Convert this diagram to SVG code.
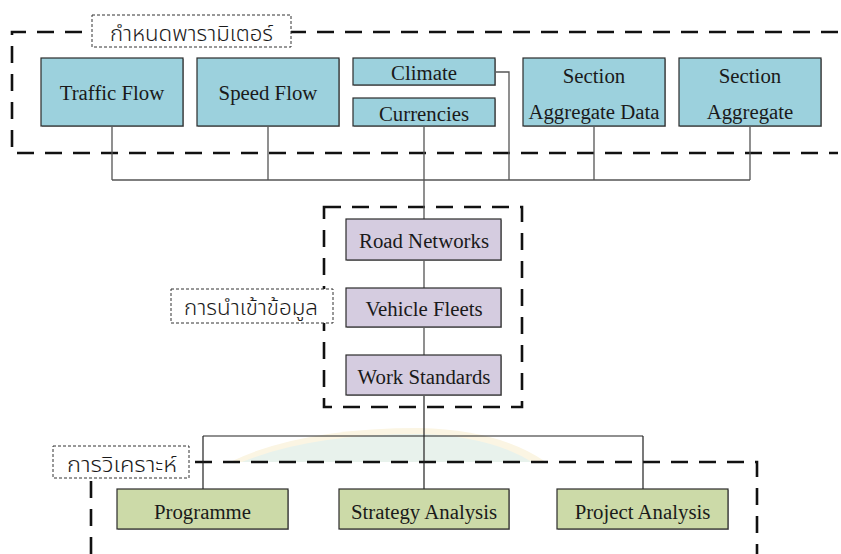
<svg xmlns="http://www.w3.org/2000/svg" width="841" height="554" viewBox="0 0 841 554">
<style>
.t{font-family:"Liberation Serif","Times New Roman",serif;font-size:20.8px;fill:#1a1a1a;text-anchor:middle}
.th{font-family:"Noto Sans Thai","Noto Sans Thai UI","Noto Sans","DejaVu Sans",sans-serif;font-size:21px;font-weight:300;fill:#1a1a1a}
.teal{fill:#9CD1DD;stroke:#2b2b2b;stroke-width:1.2}
.purp{fill:#D5CCE0;stroke:#2b2b2b;stroke-width:1.2}
.grn{fill:#CCDAA8;stroke:#2b2b2b;stroke-width:1.2}
.sh{fill:#b0b0b0}
.grp{fill:none;stroke:#111;stroke-width:2.6;stroke-dasharray:17 11}
.lbl{fill:#fff;stroke:#333;stroke-width:1;stroke-dasharray:3 2}
.c1{fill:none;stroke:#555;stroke-width:1.3}
.c2{fill:none;stroke:#222;stroke-width:1.2}
</style>
<rect width="841" height="554" fill="#fff"/>
<g id="watermark">
<path d="M230,462 Q300,428 420,428 Q500,430 546,462 Z" fill="#FBF5E3"/>
<path d="M242,462 Q310,434 420,434 Q490,436 532,462 Z" fill="#E8F2EC"/>
</g>
<g id="groups">
<path class="grp" d="M838,32 H12 V153 H838"/>
<rect class="grp" x="324" y="207" width="198" height="200"/>
<path class="grp" d="M91,554 V462 H757 V554"/>
</g>
<g id="connectors">
<path class="c1" d="M112,126 V180 M268,126 V180 M594,126 V180 M750,126 V180 M112,180 H750 M495,72 H509 V180 M424,126 V219 M424,260 V288 M424,327 V355"/>
<path class="c2" d="M424,395 V436 M203,436 H643 M203,436 V489 M424,436 V489 M643,436 V489"/>
</g>
<g id="label-params">
<rect class="lbl" x="92" y="15" width="199" height="32"/>
<text class="th" x="110" y="41" textLength="163" lengthAdjust="spacingAndGlyphs">กำหนดพารามิเตอร์</text>
</g>
<g id="label-input">
<rect class="lbl" x="171" y="289" width="162" height="34"/>
<text class="th" x="184" y="315" textLength="134" lengthAdjust="spacingAndGlyphs">การนำเข้าข้อมูล</text>
</g>
<g id="label-analysis">
<rect class="lbl" x="53" y="446" width="136" height="32"/>
<text class="th" x="67" y="472" textLength="110" lengthAdjust="spacingAndGlyphs">การวิเคราะห์</text>
</g>
<g id="traffic-flow">
<rect class="sh" x="42" y="59" width="142" height="68"/>
<rect class="teal" x="41" y="58" width="142" height="68"/>
<text class="t" x="112" y="100">Traffic Flow</text>
</g>
<g id="speed-flow">
<rect class="sh" x="198" y="59" width="142" height="68"/>
<rect class="teal" x="197" y="58" width="142" height="68"/>
<text class="t" x="268" y="100">Speed Flow</text>
</g>
<g id="climate">
<rect class="sh" x="354" y="59" width="142" height="27"/>
<rect class="teal" x="353" y="58" width="142" height="27"/>
<text class="t" x="424" y="80">Climate</text>
</g>
<g id="currencies">
<rect class="sh" x="354" y="99" width="142" height="28"/>
<rect class="teal" x="353" y="98" width="142" height="28"/>
<text class="t" x="424" y="121">Currencies</text>
</g>
<g id="section-aggregate-data">
<rect class="sh" x="524" y="59" width="142" height="68"/>
<rect class="teal" x="523" y="58" width="142" height="68"/>
<text class="t" x="594" y="83">Section</text>
<text class="t" x="594" y="119">Aggregate Data</text>
</g>
<g id="section-aggregate">
<rect class="sh" x="680" y="59" width="142" height="68"/>
<rect class="teal" x="679" y="58" width="142" height="68"/>
<text class="t" x="750" y="83">Section</text>
<text class="t" x="750" y="119">Aggregate</text>
</g>
<g id="road-networks">
<rect class="sh" x="347" y="220" width="155" height="41"/>
<rect class="purp" x="346" y="219" width="155" height="41"/>
<text class="t" x="424" y="248">Road Networks</text>
</g>
<g id="vehicle-fleets">
<rect class="sh" x="347" y="289" width="155" height="39"/>
<rect class="purp" x="346" y="288" width="155" height="39"/>
<text class="t" x="424" y="316">Vehicle Fleets</text>
</g>
<g id="work-standards">
<rect class="sh" x="347" y="356" width="155" height="40"/>
<rect class="purp" x="346" y="355" width="155" height="40"/>
<text class="t" x="424" y="384">Work Standards</text>
</g>
<g id="programme">
<rect class="sh" x="118" y="490" width="171" height="40"/>
<rect class="grn" x="117" y="489" width="171" height="40"/>
<text class="t" x="202.5" y="519">Programme</text>
</g>
<g id="strategy-analysis">
<rect class="sh" x="340" y="490" width="170" height="40"/>
<rect class="grn" x="339" y="489" width="170" height="40"/>
<text class="t" x="424" y="519">Strategy Analysis</text>
</g>
<g id="project-analysis">
<rect class="sh" x="558" y="490" width="171" height="40"/>
<rect class="grn" x="557" y="489" width="171" height="40"/>
<text class="t" x="642.5" y="519">Project Analysis</text>
</g>
</svg>
